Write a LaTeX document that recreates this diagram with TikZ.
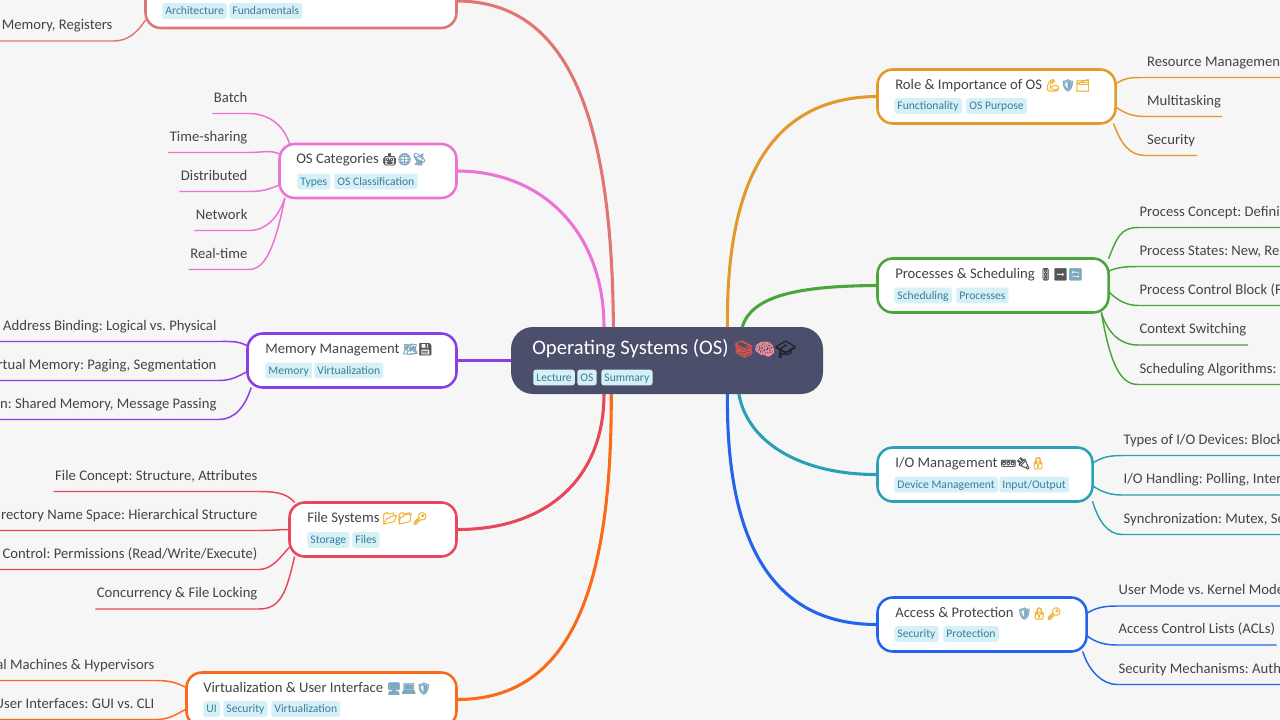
\documentclass[tikz,border=0pt]{standalone}
\usepackage{fontspec}
\setmainfont{Carlito}
\newfontfamily\emojifont[Scale=0.8,RawFeature={embolden=3}]{Noto Emoji}
\frenchspacing
\definecolor{pagebg}{HTML}{F6F6F6}
\definecolor{rootfill}{HTML}{4C4F6B}
\definecolor{tagfill}{HTML}{D5F0F7}
\definecolor{tagtext}{HTML}{3B7D96}
\definecolor{inktext}{HTML}{444446}
\definecolor{rolecol}{HTML}{E39A2C}
\definecolor{proccol}{HTML}{4AA63A}
\definecolor{iocol}{HTML}{2AA0B5}
\definecolor{accesscol}{HTML}{2463EB}
\definecolor{archcol}{HTML}{E07575}
\definecolor{catscol}{HTML}{EC72D6}
\definecolor{memcol}{HTML}{8A3EE6}
\definecolor{filecol}{HTML}{E8465A}
\definecolor{virtcol}{HTML}{FB6A1A}
\definecolor{emored}{HTML}{D9534F}
\definecolor{emoyel}{HTML}{F2B233}
\definecolor{emoblu}{HTML}{7FA8BE}
\definecolor{emogry}{HTML}{555555}
\definecolor{emopink}{HTML}{EE8C9A}
\definecolor{emodark}{HTML}{23232C}
\newcommand{\emo}[2]{{\emojifont\textcolor{#1}{#2}}}
\tikzset{
  rootbox/.style={fill=rootfill,rounded corners=16.5pt,minimum width=234pt,minimum height=50.25pt,outer sep=0pt},
  branch/.style={draw=#1,fill=white,line width=1.9pt,rounded corners=11.5pt,minimum height=40.5pt,outer sep=0pt},
  bigline/.style={draw=#1,line width=2.3pt},
  leafline/.style={draw=#1,line width=1.1pt},
  title/.style={anchor=west,inner sep=0pt,text=inktext,font=\fontsize{11}{13}\selectfont},
  tag/.style={anchor=west,fill=tagfill,text=tagtext,rounded corners=2pt,inner xsep=2.4pt,inner ysep=0pt,
    minimum height=11.8pt,text height=7pt,text depth=1.6pt,font=\fontsize{8.7}{10}\selectfont},
  leaf/.style={inner xsep=1.2pt,inner ysep=0pt,minimum height=24.75pt,text=inktext,
    text height=8.5pt,text depth=0.8pt,outer sep=0pt,font=\fontsize{11}{13}\selectfont},
  rleaf/.style={leaf,anchor=west},
  lleaf/.style={leaf,anchor=east}
}
\begin{document}
\begin{tikzpicture}[x=0.75pt,y=0.75pt,yscale=-1,xscale=1]
  \fill[pagebg] (0,0) rectangle (1280,720);
  \useasboundingbox (0,0) rectangle (1280,720);
  \coordinate (edgeL) at (0,0);
  \coordinate (edgeR) at (1280,0);

  % root
  \node[rootbox] (root) at (667,360.5) {};
  \node[anchor=west,inner sep=0pt,text=white,font=\fontsize{15.5}{18}\selectfont] (roottitle) at (532,349)
    {Operating Systems (OS) \emo{emored}{📚}\emo{emopink}{🧠}\emo{emodark}{🎓}};
  \node[tag] (t1) at (533,377.5) {Lecture};
  \node[tag] (t2) at (577,377.5) {OS};
  \node[tag] (t3) at (601,377.5) {Summary};

  % branches, right side
  \node[branch=rolecol,minimum width=178.5pt] (role) at (996.5,96.5) {};
  \node[title] (roletitle) at (895,85.5) {Role \& Importance of OS \emo{emoyel}{💪}\emo{emoblu}{🛡}\emo{emoyel}{🗂}};
  \node[tag] (t4) at (894,106) {Functionality};
  \node[tag] (t5) at (966,106) {OS Purpose};

  \node[branch=proccol,minimum width=173.25pt] (proc) at (993,285.5) {};
  \node[title] (proctitle) at (895,274.5) {Processes \& Scheduling \emo{emogry}{🚦}\emo{emogry}{➡}\emo{emoblu}{🔄}};
  \node[tag] (t6) at (894,295.5) {Scheduling};
  \node[tag] (t7) at (956,295.5) {Processes};

  \node[branch=iocol,minimum width=161.25pt] (io) at (985,474.5) {};
  \node[title] (iotitle) at (895,463.5) {I/O Management \emo{emogry}{🚥}\emo{emogry}{🔌}\emo{emoyel}{🔒}};
  \node[tag] (t8) at (894,484.5) {Device Management};
  \node[tag] (t9) at (999,484.5) {Input/Output};

  \node[branch=accesscol,minimum width=156.75pt] (access) at (982,624.5) {};
  \node[title] (accesstitle) at (895,613.5) {Access \& Protection \emo{emoblu}{🛡}\emo{emoyel}{🔒}\emo{emoyel}{🔑}};
  \node[tag] (t10) at (894,634) {Security};
  \node[tag] (t11) at (943,634) {Protection};

  % branches, left side
  \node[branch=archcol,minimum width=233.25pt] (arch) at (301,1) {};
  \node[tag] (t12) at (162,11) {Architecture};
  \node[tag] (t13) at (229,11) {Fundamentals};

  \node[branch=catscol,minimum width=132.75pt] (cats) at (368,171) {};
  \node[title] (catstitle) at (296,159.5) {OS Categories \emo{emogry}{🤖}\emo{emoblu}{🌐}\emo{emoblu}{📡}};
  \node[tag] (t14) at (297,181.5) {Types};
  \node[tag] (t15) at (334,181.5) {OS Classification};

  \node[branch=memcol,minimum width=156.75pt] (mem) at (352,360.5) {};
  \node[title] (memtitle) at (265,349.5) {Memory Management \emo{emoblu}{🗺}\emo{emogry}{💾}};
  \node[tag] (t16) at (265,370.5) {Memory};
  \node[tag] (t17) at (314,370.5) {Virtualization};

  \node[branch=filecol,minimum width=125.25pt] (file) at (373,529.5) {};
  \node[title] (filetitle) at (307,518.5) {File Systems \emo{emoyel}{📂}\emo{emoyel}{📁}\emo{emoyel}{🔑}};
  \node[tag] (t18) at (307,540) {Storage};
  \node[tag] (t19) at (352,540) {Files};

  \node[branch=virtcol,minimum width=202.5pt] (virt) at (321.5,699.5) {};
  \node[title] (virttitle) at (203,688.5) {Virtualization \& User Interface \emo{emoblu}{🖥}\emo{emoblu}{💻}\emo{emoblu}{🛡}};
  \node[tag] (t20) at (203,709) {UI};
  \node[tag] (t21) at (223,709) {Security};
  \node[tag] (t22) at (271,709) {Virtualization};

  % root to branches
  \draw[bigline=rolecol] (root.29.6) .. controls (726,190) and (765,97) .. (role.west);
  \draw[bigline=proccol] (root.24.4) .. controls (752,295) and (800,286) .. (proc.west);
  \draw[bigline=iocol] (root.-25.9) .. controls (748,445) and (805,475) .. (io.west);
  \draw[bigline=accesscol] (root.-29.6) .. controls (726,530) and (765,625) .. (access.west);
  \draw[bigline=archcol] (root.148.7) .. controls (612,120) and (570,1) .. (arch.east);
  \draw[bigline=catscol] (root.152) .. controls (604,235) and (545,171) .. (cats.east);
  \draw[bigline=memcol] (root.west) -- (mem.east);
  \draw[bigline=filecol] (root.208) .. controls (604,480) and (545,530) .. (file.east);
  \draw[bigline=virtcol] (root.211.3) .. controls (612,590) and (570,700) .. (virt.east);

  % leaves of role
  \node[rleaf] (resmgmt) at (1145.5,61) {Resource Management};
  \node[rleaf] (multitask) at (1145.5,100) {Multitasking};
  \node[rleaf] (rolesec) at (1145.5,139) {Security};
  \draw[leafline=rolecol] (role.6.5) .. controls +(10,-7) and +(-12,0) .. (resmgmt.south west) -- (resmgmt.south west -| edgeR);
  \draw[leafline=rolecol] (role.-5) .. controls +(10,7) and +(-12,0) .. (multitask.south west) -- (1222,116.5);
  \draw[leafline=rolecol] (role.-13.2) .. controls +(8,22) and +(-15,0) .. (rolesec.south west) -- (1197,155.5);

  % leaves of proc
  \node[rleaf] (pconcept) at (1138,211) {Process Concept: Defini};
  \node[rleaf] (pstates) at (1138,250) {Process States: New, Re};
  \node[rleaf] (pcontrol) at (1138,289) {Process Control Block (F};
  \node[rleaf] (pswitch) at (1138,328.5) {Context Switching};
  \node[rleaf] (palgo) at (1138,368) {Scheduling Algorithms:};
  \draw[leafline=proccol] (proc.13.9) .. controls +(8,-20) and +(-18,0) .. (pconcept.south west) -- (pconcept.south west -| edgeR);
  \draw[leafline=proccol] (proc.7.6) .. controls +(8,-4) and +(-12,0) .. (pstates.south west) -- (pstates.south west -| edgeR);
  \draw[leafline=proccol] (proc.-3.7) .. controls +(8,8) and +(-12,0) .. (pcontrol.south west) -- (pcontrol.south west -| edgeR);
  \draw[leafline=proccol] (proc.-14) .. controls +(6,20) and +(-18,0) .. (pswitch.south west) -- (1248,345);
  \draw[leafline=proccol] (proc.-14.4) .. controls +(8,45) and +(-20,0) .. (palgo.south west) -- (palgo.south west -| edgeR);

  % leaves of io
  \node[rleaf] (iotypes) at (1122,439) {Types of I/O Devices: Block};
  \node[rleaf] (iohandling) at (1122,478.5) {I/O Handling: Polling, Inter};
  \node[rleaf] (iosync) at (1122,518) {Synchronization: Mutex, Se};
  \draw[leafline=iocol] (io.6.6) .. controls +(9,-6) and +(-12,0) .. (iotypes.south west) -- (iotypes.south west -| edgeR);
  \draw[leafline=iocol] (io.-6.6) .. controls +(9,6) and +(-12,0) .. (iohandling.south west) -- (iohandling.south west -| edgeR);
  \draw[leafline=iocol] (io.-14.4) .. controls +(6,20) and +(-14,0) .. (iosync.south west) -- (iosync.south west -| edgeR);

  % leaves of access
  \node[rleaf] (usermode) at (1117,589.5) {User Mode vs. Kernel Mode};
  \node[rleaf] (acl) at (1117,628.5) {Access Control Lists (ACLs)};
  \node[rleaf] (secmech) at (1117,668) {Security Mechanisms: Auth};
  \draw[leafline=accesscol] (access.6.8) .. controls +(9,-6) and +(-12,0) .. (usermode.south west) -- (usermode.south west -| edgeR);
  \draw[leafline=accesscol] (access.-6.8) .. controls +(9,7) and +(-12,0) .. (acl.south west) -- (acl.south east);
  \draw[leafline=accesscol] (access.-15) .. controls +(6,20) and +(-14,0) .. (secmech.south west) -- (secmech.south west -| edgeR);

  % leaves of arch
  \node[lleaf] (archmem) at (114,24.5) {, Memory, Registers};
  \draw[leafline=archcol] (arch.187.3) .. controls +(-8,12) and +(14,0) .. (archmem.south east) -- (archmem.south east -| edgeL);

  % leaves of cats
  \node[lleaf] (batch) at (249,97) {Batch};
  \node[lleaf] (timeshare) at (249,136) {Time-sharing};
  \node[lleaf] (distrib) at (249,175) {Distributed};
  \node[lleaf] (network) at (249,214) {Network};
  \node[lleaf] (realtime) at (249,253) {Real-time};
  \draw[leafline=catscol] (cats.161.8) .. controls +(-6,-20) and +(18,0) .. (batch.south east) -- (batch.south west);
  \draw[leafline=catscol] (cats.169.8) .. controls +(-10,-4) and +(14,0) .. (timeshare.south east) -- (timeshare.south west);
  \draw[leafline=catscol] (cats.189) .. controls +(-10,4) and +(14,0) .. (distrib.south east) -- (distrib.south west);
  \draw[leafline=catscol] (cats.198.8) .. controls +(-6,18) and +(18,0) .. (network.south east) -- (network.south west);
  \draw[leafline=catscol] (cats.198.2) .. controls +(-10,50) and +(16,0) .. (realtime.south east) -- (realtime.south west);

  % leaves of mem
  \node[lleaf] (membind) at (218,325) {Address Binding: Logical vs. Physical};
  \node[lleaf] (memvirt) at (218,364) {rtual Memory: Paging, Segmentation};
  \node[lleaf] (memipc) at (218,403) {on: Shared Memory, Message Passing};
  \draw[leafline=memcol] (mem.172.6) .. controls +(-10,-5) and +(14,0) .. (membind.south east) -- (membind.south east -| edgeL);
  \draw[leafline=memcol] (mem.186.8) .. controls +(-10,5) and +(14,0) .. (memvirt.south east) -- (memvirt.south east -| edgeL);
  \draw[leafline=memcol] (mem.195.1) .. controls +(-6,18) and +(18,0) .. (memipc.south east) -- (memipc.south east -| edgeL);

  % leaves of file
  \node[lleaf] (fconcept) at (259,475) {File Concept: Structure, Attributes};
  \node[lleaf] (fdir) at (259,514) {rectory Name Space: Hierarchical Structure};
  \node[lleaf] (faccess) at (259,553) {Control: Permissions (Read/Write/Execute)};
  \node[lleaf] (flock) at (259,592.5) {Concurrency \& File Locking};
  \draw[leafline=filecol] (file.161.8) .. controls +(-8,-10) and +(14,0) .. (fconcept.south east) -- (fconcept.south west);
  \draw[leafline=filecol] (file.180) .. controls +(-10,0) and +(14,0) .. (fdir.south east) -- (fdir.south east -| edgeL);
  \draw[leafline=filecol] (file.192) .. controls +(-8,8) and +(14,0) .. (faccess.south east) -- (faccess.south east -| edgeL);
  \draw[leafline=filecol] (file.199) .. controls +(-8,35) and +(22,0) .. (flock.south east) -- (flock.south west);

  % leaves of virt
  \node[lleaf] (vmachines) at (156,664) {al Machines \& Hypervisors};
  \node[lleaf] (vui) at (156,703) {User Interfaces: GUI vs. CLI};
  \draw[leafline=virtcol] (virt.175) .. controls +(-10,-5) and +(14,0) .. (vmachines.south east) -- (vmachines.south east -| edgeL);
  \draw[leafline=virtcol] (virt.184.4) .. controls +(-10,5) and +(14,0) .. (vui.south east) -- (vui.south east -| edgeL);
\end{tikzpicture}
\end{document}
